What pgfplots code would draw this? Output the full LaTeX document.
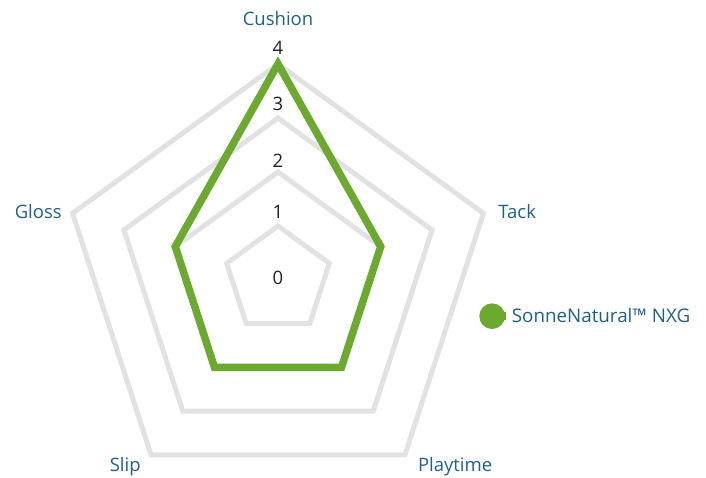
\documentclass[border=0pt]{standalone}
\usepackage{pgfplots}
\pgfplotsset{compat=1.18}
\usepackage{fontspec}
\setmainfont{Open Sans}
\definecolor{sngreen}{RGB}{107,170,46}
\definecolor{gridgray}{RGB}{226,226,226}
\definecolor{labblue}{RGB}{31,96,138}
\definecolor{tickcol}{RGB}{34,34,34}
\begin{document}
\begin{tikzpicture}
\path[use as bounding box] (0,0) rectangle (706bp,-478bp);
\begin{axis}[
  anchor=origin, at={(278bp,-280bp)},
  x=54bp, y=54bp,
  xmin=-5, xmax=5, ymin=-4.5, ymax=5,
  hide axis, clip=false,
  legend style={at={(axis cs:3.67,-0.67)}, anchor=west, draw=none, fill=none,
    font=\fontsize{18.8bp}{20bp}\selectfont, text=labblue,
    legend cell align=left},
]
\foreach \r in {1,2,3,4}{
  \edef\tmp{\noexpand\addplot[gridgray, line width=5bp, line join=miter, data cs=polar, forget plot]
    coordinates {(90,\r) (18,\r) (-54,\r) (-126,\r) (162,\r)} -- cycle;}
  \tmp
}
\addplot[sngreen, line width=7.5bp, line join=miter, data cs=polar,
  legend image code/.code={\fill[sngreen] (0bp,0bp) circle (9bp); \path (0bp,0bp) -- (14bp,0bp);}]
  coordinates {(90,4) (18,2) (-54,2) (-126,2) (162,2)} -- cycle;
\addlegendentry{SonneNatural™ NXG}

\begin{scope}[every node/.style={font=\fontsize{18.5bp}{20bp}\selectfont}]
\node[text=tickcol] at (axis cs:0,4.30) {4};
\node[text=tickcol] at (axis cs:0,3.26) {3};
\node[text=tickcol] at (axis cs:0,2.20) {2};
\node[text=tickcol] at (axis cs:0,1.26) {1};
\node[text=tickcol] at (axis cs:0,0.04) {0};
\node[text=labblue] at (axis cs:0,4.85) {Cushion};
\node[text=labblue] at (axis cs:4.43,1.26) {Tack};
\node[text=labblue] at (axis cs:-4.44,1.26) {Gloss};
\node[text=labblue] at (axis cs:-2.83,-3.45) {Slip};
\node[text=labblue] at (axis cs:3.28,-3.45) {Playtime};
\end{scope}
\end{axis}
\end{tikzpicture}
\end{document}
